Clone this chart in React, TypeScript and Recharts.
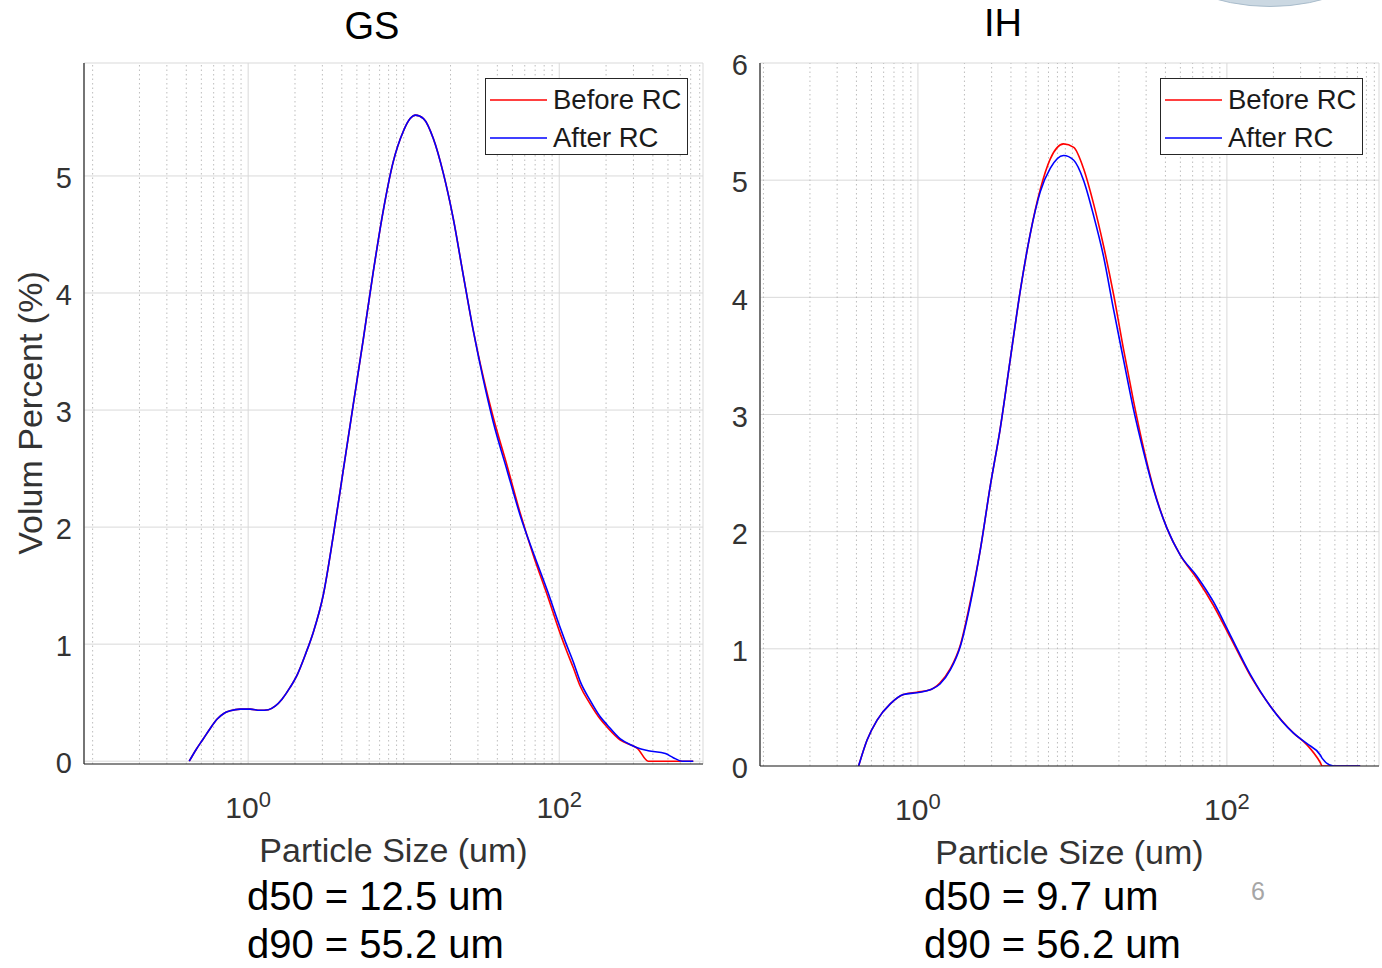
import React from 'react';
import { LineChart, Line, XAxis, YAxis, CartesianGrid, ReferenceLine, Legend } from 'recharts';

const FONT = '"Liberation Sans", Arial, Helvetica, sans-serif';

// ---- GS panel data (particle size in um, volume percent) ----
const gsSize = [0.418, 0.463, 0.514, 0.57, 0.632, 0.701, 0.766, 0.889, 1.03, 1.19, 1.35, 1.49, 1.65, 1.86, 2.07, 2.33, 2.62, 3.04, 3.52, 4.08, 4.73, 5.49, 6.37, 7.38, 8.56, 9.93, 11.0, 11.9, 13.4, 15.5, 18.0, 20.8, 24.1, 28.0, 32.5, 37.6, 46.3, 56.1, 68.1, 83.7, 101.5, 111, 123, 136.5, 158, 183.5, 203.5, 247, 299, 317.5, 373.5, 481, 541, 618, 727];
const gsBefore = [0, 0.1, 0.19, 0.28, 0.36, 0.41, 0.43, 0.445, 0.445, 0.435, 0.44, 0.47, 0.53, 0.63, 0.74, 0.91, 1.1, 1.42, 1.92, 2.48, 3.04, 3.6, 4.18, 4.7, 5.12, 5.38, 5.49, 5.52, 5.49, 5.32, 5.02, 4.64, 4.16, 3.68, 3.28, 2.94, 2.52, 2.12, 1.76, 1.42, 1.09, 0.95, 0.8, 0.64, 0.49, 0.36, 0.29, 0.18, 0.13, 0.11, 0, 0, 0, 0, 0];
const gsAfter = [0, 0.1, 0.19, 0.28, 0.36, 0.41, 0.43, 0.445, 0.445, 0.435, 0.44, 0.47, 0.53, 0.63, 0.74, 0.91, 1.1, 1.42, 1.92, 2.48, 3.04, 3.6, 4.18, 4.7, 5.12, 5.38, 5.49, 5.52, 5.49, 5.32, 5.02, 4.64, 4.16, 3.68, 3.26, 2.9, 2.48, 2.1, 1.78, 1.46, 1.14, 1.0, 0.85, 0.68, 0.52, 0.38, 0.31, 0.19, 0.13, 0.115, 0.09, 0.065, 0.03, 0, 0];

// ---- IH panel data ----
const ihSize = [0.413, 0.468, 0.543, 0.662, 0.807, 0.985, 1.2, 1.39, 1.62, 1.88, 2.18, 2.53, 2.94, 3.41, 3.96, 4.59, 5.33, 6.19, 7.18, 8.76, 10.2, 11.8, 13.7, 15.9, 18.5, 21.4, 24.9, 28.9, 33.5, 40.9, 49.9, 63.9, 81.9, 105, 142, 191, 270, 330, 402, 414, 490, 583, 729];
const ihBefore = [0, 0.22, 0.39, 0.53, 0.61, 0.63, 0.65, 0.71, 0.83, 1.03, 1.4, 1.84, 2.39, 2.88, 3.47, 4.05, 4.54, 4.92, 5.18, 5.31, 5.28, 5.1, 4.8, 4.44, 4.02, 3.56, 3.11, 2.71, 2.37, 2.03, 1.8, 1.6, 1.37, 1.1, 0.77, 0.51, 0.28, 0.18, 0.03, 0, 0, 0, 0];
const ihAfter = [0, 0.22, 0.39, 0.53, 0.61, 0.625, 0.65, 0.7, 0.82, 1.02, 1.38, 1.84, 2.39, 2.88, 3.47, 4.05, 4.54, 4.9, 5.1, 5.21, 5.17, 5.0, 4.7, 4.35, 3.89, 3.47, 3.04, 2.68, 2.36, 2.03, 1.8, 1.62, 1.4, 1.12, 0.78, 0.51, 0.28, 0.19, 0.094, 0.065, 0, 0, 0];

// ---- ticks / labels ----
const xMajorTicks = [1, 100];
const gsMinorTicks = [0.1, 0.2, 0.3, 0.4, 0.5, 0.6, 0.7, 0.8, 0.9, 2, 3, 4, 5, 6, 7, 8, 9, 10, 20, 30, 40, 50, 60, 70, 80, 90, 200, 300, 400, 500, 600, 700, 800];
const ihMinorTicks = [0.1, 0.2, 0.3, 0.4, 0.5, 0.6, 0.7, 0.8, 0.9, 2, 3, 4, 5, 6, 7, 8, 9, 10, 20, 30, 40, 50, 60, 70, 80, 90, 200, 300, 400, 500, 600, 700, 800, 900];
const gsYTicks = [0, 1, 2, 3, 4, 5];
const ihYTicks = [0, 1, 2, 3, 4, 5, 6];
const gsXDomain = [0.088, 840];
const ihXDomain = [0.095, 965];
const gsYDomain = [-0.024, 5.965];
const ihYDomain = [0, 6];
const seriesNames = ['Before RC', 'After RC'];
const seriesKeys = ['before', 'after'];
const seriesColors = ['#ff0000', '#0000ff'];
const panelTitles = ['GS', 'IH'];
const gsStats = ['d50 = 12.5 um', 'd90 = 55.2 um'];
const ihStats = ['d50 = 9.7 um', 'd90 = 56.2 um'];
const xLabel = 'Particle Size (um)';
const yLabel = 'Volum Percent (%)';
const pageNumber = '6';

const gsData = gsSize.map((s, i) => ({ size: s, before: gsBefore[i], after: gsAfter[i] }));
const ihData = ihSize.map((s, i) => ({ size: s, before: ihBefore[i], after: ihAfter[i] }));

const AXIS = '#262626';
const TICKTXT = '#333333';

const PowTick = (props: any) => {
  const { x, y, payload } = props;
  const exp = Math.round(Math.log10(payload.value));
  return (
    <text x={x} y={y + 54} textAnchor="middle" fill={TICKTXT} fontSize={30} fontFamily={FONT}>
      <tspan>10</tspan>
      <tspan dy={-11} fontSize={22}>{exp}</tspan>
    </text>
  );
};

const LegendBox = () => (
  <div
    style={{
      position: 'relative',
      width: 203,
      height: 77,
      border: `1.3px solid ${AXIS}`,
      boxSizing: 'border-box',
      background: '#fff',
      fontFamily: FONT,
    }}
  >
    {seriesNames.map((n, i) => (
      <div
        key={n}
        style={{ position: 'absolute', left: 4, top: 21 + i * 37.5 - 15, height: 30, display: 'flex', alignItems: 'center' }}
      >
        <svg width={57} height={4} style={{ display: 'block' }}>
          <line x1={0} y1={2} x2={57} y2={2} stroke={seriesColors[i]} strokeWidth={1.6} />
        </svg>
        <span style={{ marginLeft: 6, fontSize: 27.5, lineHeight: '30px', color: '#1a1a1a', whiteSpace: 'nowrap' }}>{n}</span>
      </div>
    ))}
  </div>
);

type PanelProps = {
  data: any[];
  width: number;
  margin: { top: number; right: number; bottom: number; left: number };
  xDomain: number[];
  yDomain: number[];
  yTicks: number[];
  minorTicks: number[];
  yAxisWidth: number;
  legendLeft: number;
};

const Panel = ({ data, width, margin, xDomain, yDomain, yTicks, minorTicks, yAxisWidth, legendLeft }: PanelProps) => (
  <LineChart width={width} height={968} data={data} margin={margin}>
    <CartesianGrid stroke="#d9d9d9" strokeWidth={1} />
    {minorTicks.map((v) => (
      <ReferenceLine key={v} x={v} stroke="#bdbdbd" strokeWidth={1} strokeDasharray="1.5 3" />
    ))}
    <XAxis
      dataKey="size"
      type="number"
      scale="log"
      domain={xDomain}
      allowDataOverflow
      ticks={xMajorTicks}
      interval={0}
      tickLine={false}
      tickSize={0}
      tickMargin={0}
      tick={<PowTick />}
      height={40}
      axisLine={{ stroke: AXIS, strokeWidth: 1.2 }}
      label={{ value: xLabel, position: 'bottom', offset: 34, fill: TICKTXT, fontSize: 34, fontFamily: FONT }}
    />
    <XAxis xAxisId="bMaj" orientation="bottom" mirror type="number" scale="log" domain={xDomain} allowDataOverflow ticks={xMajorTicks} interval={0} tick={false} tickSize={7} height={0} axisLine={false} tickLine={{ stroke: AXIS }} />
    <XAxis xAxisId="bMin" orientation="bottom" mirror type="number" scale="log" domain={xDomain} allowDataOverflow ticks={minorTicks} interval={0} tick={false} tickSize={4} height={0} axisLine={false} tickLine={{ stroke: AXIS }} />
    <XAxis xAxisId="tMaj" orientation="top" mirror type="number" scale="log" domain={xDomain} allowDataOverflow ticks={xMajorTicks} interval={0} tick={false} tickSize={7} height={0} axisLine={{ stroke: AXIS, strokeWidth: 1.2 }} tickLine={{ stroke: AXIS }} />
    <XAxis xAxisId="tMin" orientation="top" mirror type="number" scale="log" domain={xDomain} allowDataOverflow ticks={minorTicks} interval={0} tick={false} tickSize={4} height={0} axisLine={false} tickLine={{ stroke: AXIS }} />
    <YAxis
      type="number"
      domain={yDomain}
      allowDataOverflow
      ticks={yTicks}
      interval={0}
      tickLine={false}
      tickSize={0}
      tickMargin={12}
      width={yAxisWidth}
      axisLine={{ stroke: AXIS, strokeWidth: 1.2 }}
      tick={{ fill: TICKTXT, fontSize: 29, fontFamily: FONT, dy: 2 }}
    />
    <YAxis yAxisId="lm" orientation="left" mirror type="number" domain={yDomain} allowDataOverflow ticks={yTicks} interval={0} tick={false} tickSize={7} width={0} axisLine={false} tickLine={{ stroke: AXIS }} />
    <YAxis yAxisId="rm" orientation="right" mirror type="number" domain={yDomain} allowDataOverflow ticks={yTicks} interval={0} tick={false} tickSize={7} width={0} axisLine={{ stroke: AXIS, strokeWidth: 1.2 }} tickLine={{ stroke: AXIS }} />
    {seriesKeys.map((k, i) => (
      <Line
        key={k}
        dataKey={k}
        name={seriesNames[i]}
        type="monotone"
        stroke={seriesColors[i]}
        strokeWidth={1.6}
        dot={false}
        isAnimationActive={false}
      />
    ))}
    <Legend
      layout="vertical"
      align="center"
      verticalAlign="middle"
      wrapperStyle={{ position: 'absolute', left: legendLeft, top: 78, width: 'auto', height: 'auto' }}
      content={() => <LegendBox />}
    />
  </LineChart>
);

export default function App() {
  return (
    <div style={{ position: 'absolute', left: 0, top: 0, width: 1382, height: 968, background: '#fff', overflow: 'hidden', fontFamily: FONT }}>
      <div
        style={{
          position: 'absolute',
          left: 1066,
          top: -401,
          width: 408,
          height: 408,
          borderRadius: '50%',
          background: '#cbd8e2',
          border: '1px solid #a9bccb',
          boxSizing: 'border-box',
        }}
      />
      <div style={{ position: 'absolute', left: 0, top: 0 }}>
        <Panel
          data={gsData}
          width={720}
          margin={{ top: 63, right: 17, bottom: 164, left: 34 }}
          xDomain={gsXDomain}
          yDomain={gsYDomain}
          yTicks={gsYTicks}
          minorTicks={gsMinorTicks}
          yAxisWidth={50}
          legendLeft={485}
        />
      </div>
      <div style={{ position: 'absolute', left: 720, top: 0 }}>
        <Panel
          data={ihData}
          width={662}
          margin={{ top: 63, right: 3, bottom: 162, left: 0 }}
          xDomain={ihXDomain}
          yDomain={ihYDomain}
          yTicks={ihYTicks}
          minorTicks={ihMinorTicks}
          yAxisWidth={40}
          legendLeft={440}
        />
      </div>
      <svg
        width={1382}
        height={968}
        style={{ position: 'absolute', left: 0, top: 0, pointerEvents: 'none' }}
        fontFamily={FONT}
      >
        <text x={372} y={38.5} textAnchor="middle" fontSize={38} fill="#000">{panelTitles[0]}</text>
        <text x={1003} y={36} textAnchor="middle" fontSize={38} fill="#000">{panelTitles[1]}</text>
        <text transform="translate(42,413) rotate(-90)" textAnchor="middle" fontSize={34} fill={TICKTXT}>{yLabel}</text>
        {gsStats.map((s, i) => (
          <text key={s} x={247} y={910 + i * 48} fontSize={40} fill="#000">{s}</text>
        ))}
        {ihStats.map((s, i) => (
          <text key={s} x={924} y={910 + i * 48} fontSize={40} fill="#000">{s}</text>
        ))}
        <text x={1258} y={900} textAnchor="middle" fontSize={25} fill="#a6a6a6">{pageNumber}</text>
      </svg>
    </div>
  );
}
